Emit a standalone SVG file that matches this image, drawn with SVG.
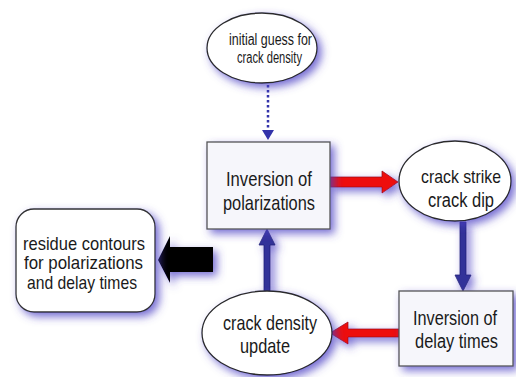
<svg xmlns="http://www.w3.org/2000/svg" width="516" height="377" viewBox="0 0 516 377">
<defs>
<filter id="sh" x="-30%" y="-30%" width="160%" height="160%">
<feGaussianBlur in="SourceAlpha" stdDeviation="4"/>
<feOffset dx="4" dy="4" result="b"/>
<feFlood flood-color="#4b3fc4" flood-opacity="0.75"/>
<feComposite in2="b" operator="in"/>
<feMerge><feMergeNode/><feMergeNode in="SourceGraphic"/></feMerge>
</filter>
</defs>
<style>
.t{font-family:"Liberation Sans",Arial,sans-serif;fill:#1a1a1a;text-anchor:middle}
.ell{fill:#ffffff;stroke:#2a2a2a;stroke-width:1.3}
.box{fill:#f6f6fb;stroke:#555;stroke-width:1.3}
.red{fill:#ee1111;stroke:#a01010;stroke-width:0.8}
.blue{fill:#333399;stroke:#25257a;stroke-width:0.8}
</style>
<rect width="516" height="377" fill="#ffffff"/>
<g id="connectors">
<line x1="268" y1="85" x2="268" y2="130" stroke="#3333aa" stroke-width="2.5" stroke-dasharray="2.5,2.5"/>
<polygon points="262,130 274,130 268,140" fill="#3333aa"/>
<g filter="url(#sh)">
<polygon class="red" points="330,177 382,177 382,171 398,182 382,193 382,187 330,187"/>
<polygon class="blue" points="460,222 466,222 466,275 471,275 463,291 455,275 460,275"/>
<polygon class="red" points="399,329 348,329 348,322 330,333 348,344 348,337 399,337"/>
<polygon class="blue" points="264,291 270,291 270,245 275,245 267,229 259,245 264,245"/>
<polygon fill="#000" points="213,247 170,247 170,236 158,260 170,283 170,272 213,272"/>
</g>
</g>
<g id="n-initial">
<ellipse class="ell" cx="262" cy="48" rx="55" ry="35" filter="url(#sh)"/>
<text class="t" x="270.5" y="45" font-size="16" textLength="83" lengthAdjust="spacingAndGlyphs">initial guess for</text>
<text class="t" x="269.5" y="63" font-size="16" textLength="65" lengthAdjust="spacingAndGlyphs">crack density</text>
</g>
<g id="n-invpol">
<rect class="box" x="207" y="142" width="123" height="87" filter="url(#sh)"/>
<text class="t" x="269" y="186" font-size="21" textLength="86" lengthAdjust="spacingAndGlyphs">Inversion of</text>
<text class="t" x="269" y="210" font-size="21" textLength="92" lengthAdjust="spacingAndGlyphs">polarizations</text>
</g>
<g id="n-strike">
<ellipse class="ell" cx="455" cy="181" rx="56" ry="40" filter="url(#sh)"/>
<text class="t" x="461" y="183" font-size="19" textLength="80" lengthAdjust="spacingAndGlyphs">crack strike</text>
<text class="t" x="461" y="207" font-size="20" textLength="66" lengthAdjust="spacingAndGlyphs">crack dip</text>
</g>
<g id="n-invdelay">
<rect class="box" x="399" y="291" width="114" height="75" filter="url(#sh)"/>
<text class="t" x="455" y="325" font-size="20" textLength="84" lengthAdjust="spacingAndGlyphs">Inversion of</text>
<text class="t" x="456.5" y="348" font-size="20" textLength="83" lengthAdjust="spacingAndGlyphs">delay times</text>
</g>
<g id="n-update">
<ellipse class="ell" cx="267" cy="333" rx="65" ry="42" filter="url(#sh)"/>
<text class="t" x="270" y="330" font-size="21" textLength="94" lengthAdjust="spacingAndGlyphs">crack density</text>
<text class="t" x="265" y="353" font-size="21" textLength="50" lengthAdjust="spacingAndGlyphs">update</text>
</g>
<g id="n-residue">
<rect x="16" y="209" width="139" height="103" rx="18" ry="18" fill="#fff" stroke="#333" stroke-width="1.3" filter="url(#sh)"/>
<text class="t" x="84" y="250" font-size="19" textLength="122" lengthAdjust="spacingAndGlyphs">residue contours</text>
<text class="t" x="83.5" y="269" font-size="19" textLength="119" lengthAdjust="spacingAndGlyphs">for polarizations</text>
<text class="t" x="82" y="289" font-size="19" textLength="110" lengthAdjust="spacingAndGlyphs">and delay times</text>
</g>
</svg>
